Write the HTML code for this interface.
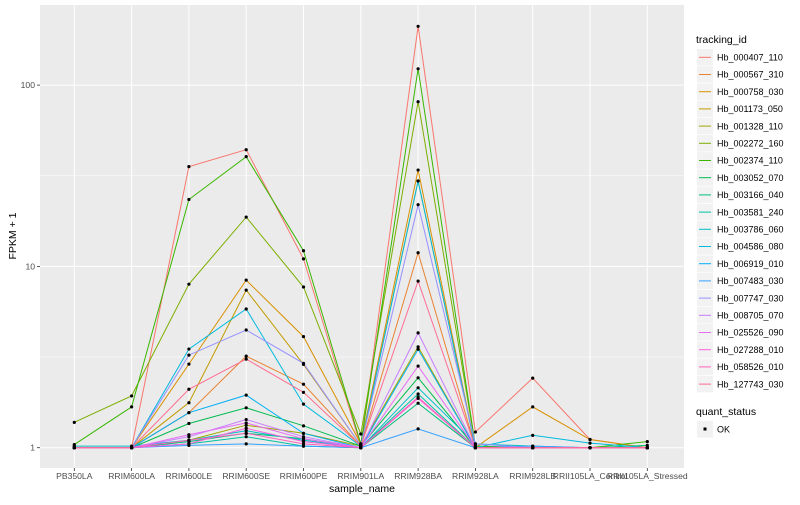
<!DOCTYPE html>
<html><head><meta charset="utf-8"><style>
body{margin:0;background:#fff;font-family:"Liberation Sans",sans-serif;}
svg text{font-family:"Liberation Sans",sans-serif;}
</style></head><body>
<svg id="chart" width="800" height="500" xmlns="http://www.w3.org/2000/svg"></svg>
<script>
const categories=["PB350LA","RRIM600LA","RRIM600LE","RRIM600SE","RRIM600PE","RRIM901LA","RRIM928BA","RRIM928LA","RRIM928LB","RRII105LA_Control","RRII105LA_Stressed"];
const seriesNames=["Hb_000407_110","Hb_000567_310","Hb_000758_030","Hb_001173_050","Hb_001328_110","Hb_002272_160","Hb_002374_110","Hb_003052_070","Hb_003166_040","Hb_003581_240","Hb_003786_060","Hb_004586_080","Hb_006919_010","Hb_007483_030","Hb_007747_030","Hb_008705_070","Hb_025526_090","Hb_027288_010","Hb_058526_010","Hb_127743_030"];
const seriesColors=["#F8766D","#EA8331","#D89000","#C09B00","#A3A500","#7CAE00","#39B600","#00BB4E","#00BF7D","#00C1A3","#00BFC4","#00BAE0","#00B0F6","#35A2FF","#9590FF","#C77CFF","#E76BF3","#FA62DB","#FF62BC","#FF6C91"];
const s000407=[1,1,35.5,44,11,1.02,211,1.22,2.42,1.11,1];
const s000567=[1,1,1.56,3.2,2.24,1.02,11.9,1,1,1,1];
const s000758=[1,1,2.89,8.4,4.1,1.05,34,1,1.68,1.11,1];
const s001173=[1,1,1.77,7.4,2.88,1.03,29.6,1,1,1,1];
const s001328=[1,1,1.1,1.33,1.2,1.02,3.6,1,1,1,1];
const s002272=[1.38,1.93,7.98,18.7,7.7,1.19,81,1.02,1,1,1];
const s002374=[1.04,1.68,23.4,40.3,12.2,1.05,123,1.02,1,1,1.08];
const s003052=[1,1,1.36,1.66,1.32,1.02,2.43,1,1,1,1];
const s003166=[1,1,1.08,1.2,1.12,1,1.76,1,1,1,1.03];
const s003581=[1,1,1.05,1.15,1.02,1,1.98,1,1,1,1];
const s003786=[1.02,1.02,1.1,1.24,1.1,1,2.14,1.05,1.02,1,1];
const s004586=[1,1,3.5,5.82,1.74,1.02,29.6,1,1.17,1.06,1];
const s006919=[1,1,1.56,1.95,1.2,1,3.49,1,1,1,1];
const s007483=[1,1,1.03,1.05,1.02,1,1.27,1,1.02,1,1];
const s007747=[1,1,3.24,4.46,2.92,1.03,21.9,1.05,1,1,1];
const s008705=[1,1,1.15,1.43,1.15,1,4.3,1,1,1,1];
const s025526=[1,1,1.18,1.37,1.12,1,2.82,1,1,1,1];
const s027288=[1,1,1.05,1.28,1.08,1,1.87,1,1,1,1];
const s058526=[1,1,1.1,1.2,1.05,1,1.9,1,1,1,1];
const s127743=[1,1,2.1,3.08,2.02,1.02,8.3,1,1,1,1];
const seriesValues=[s000407,s000567,s000758,s001173,s001328,s002272,s002374,s003052,s003166,s003581,s003786,s004586,s006919,s007483,s007747,s008705,s025526,s027288,s058526,s127743];
const yTicks=[1,10,100];
const yMinor=[3.1623,31.623];

const NS="http://www.w3.org/2000/svg";
const svg=document.getElementById("chart");
const P={l:40,t:5,r:684,b:468};
const x0=74.3,dx=57.3;
function xs(i){return x0+i*dx;}
function ys(v){return 447.7-Math.log10(v)*181.3;}
function mk(tag,attrs,parent){const e=document.createElementNS(NS,tag);for(const k in attrs)e.setAttribute(k,attrs[k]);(parent||svg).appendChild(e);return e;}

const panel=mk("rect",{x:P.l,y:P.t,width:P.r-P.l,height:P.b-P.t,fill:"#EBEBEB"});


yMinor.forEach(v=>{const g=mk("line",{x1:P.l,x2:P.r,y1:ys(v),y2:ys(v),stroke:"#fff","stroke-width":0.5});

});
yTicks.forEach(v=>{const g=mk("line",{x1:P.l,x2:P.r,y1:ys(v),y2:ys(v),stroke:"#fff","stroke-width":1});


const tk=mk("line",{x1:P.l-3,x2:P.l,y1:ys(v),y2:ys(v),stroke:"#333","stroke-width":0.8});


const t=mk("text",{x:P.l-5,y:ys(v)+3,"text-anchor":"end","font-size":"8.6","fill":"#4D4D4D"});t.textContent=v;

});
categories.forEach((c,i)=>{const g=mk("line",{x1:xs(i),x2:xs(i),y1:P.t,y2:P.b,stroke:"#fff","stroke-width":1});


const tk=mk("line",{x1:xs(i),x2:xs(i),y1:P.b,y2:P.b+3,stroke:"#333","stroke-width":0.8});


const t=mk("text",{x:xs(i),y:P.b+11,"text-anchor":"middle","font-size":"8.6","fill":"#4D4D4D"});t.textContent=c;

});

seriesValues.forEach((vals,si)=>{const pts=vals.map((v,i)=>xs(i).toFixed(1)+","+ys(v).toFixed(1)).join(" ");
const l=mk("polyline",{points:pts,fill:"none",stroke:seriesColors[si],"stroke-width":1});

});
seriesValues.forEach((vals)=>{vals.forEach((v,i)=>{const c=mk("circle",{cx:xs(i),cy:ys(v),r:1.6,fill:"#000"});

});});

const yt=mk("text",{x:16,y:236,"text-anchor":"middle","font-size":"10.5",fill:"#000",transform:"rotate(-90 16 236)"});yt.textContent="FPKM + 1";


const xt=mk("text",{x:362,y:492,"text-anchor":"middle","font-size":"10.5",fill:"#000"});xt.textContent="sample_name";



const lt=mk("text",{x:696,y:43,"font-size":"10.5",fill:"#000"});lt.textContent="tracking_id";


seriesNames.forEach((n,i)=>{const y=49+i*17.2;
const b=mk("rect",{x:697,y:y,width:16,height:16.5,fill:"#F2F2F2"});


const l=mk("line",{x1:699,x2:711,y1:y+8.3,y2:y+8.3,stroke:seriesColors[i],"stroke-width":1});


const t=mk("text",{x:717,y:y+11.5,"font-size":"9",fill:"#000"});t.textContent=n;

});
const qt=mk("text",{x:696,y:415,"font-size":"10.5",fill:"#000"});qt.textContent="quant_status";


const qb=mk("rect",{x:697,y:421,width:16,height:16.5,fill:"#F2F2F2"});


const qd=mk("rect",{x:703.5,y:427.5,width:3,height:3,fill:"#000"});


const qx=mk("text",{x:717,y:432.5,"font-size":"9",fill:"#000"});qx.textContent="OK";


</script>
</body></html>
